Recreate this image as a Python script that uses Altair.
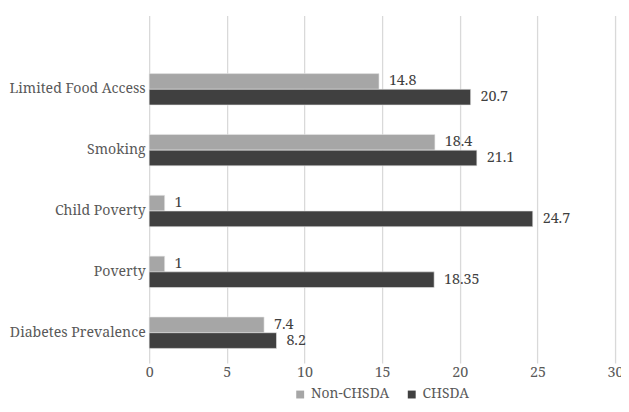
import altair as alt
import pandas as pd

categories = ["Limited Food Access", "Smoking", "Child Poverty", "Poverty", "Diabetes Prevalence"]
series = ["Non-CHSDA", "CHSDA"]
non_chsda = [14.8, 18.4, 1, 1, 7.4]
chsda = [20.7, 21.1, 24.7, 18.35, 8.2]
x_ticks = [0, 5, 10, 15, 20, 25, 30]
colors = ["#a6a6a6", "#404040"]

rows = []
for c, a, b in zip(categories, non_chsda, chsda):
    rows.append({"category": c, "series": series[0], "value": a, "label": f"{a:g}"})
    rows.append({"category": c, "series": series[1], "value": b, "label": f"{b:g}"})
df = pd.DataFrame(rows)

FONT = "Noto Serif"

y_enc = alt.Y("category:N", sort=categories, title=None,
              scale=alt.Scale(paddingInner=0.484, paddingOuter=0.597, align=0.8),
              axis=alt.Axis(domain=False, ticks=False, labelPadding=4,
                            labelFont=FONT, labelFontSize=14.3, labelColor="#595959"))
yoff = alt.YOffset("series:N", sort=series, scale=alt.Scale(paddingInner=0, paddingOuter=0))
x_enc = alt.X("value:Q", title=None,
              scale=alt.Scale(domain=[0, 30], nice=False),
              axis=alt.Axis(values=x_ticks, domain=False, ticks=False, grid=True,
                            labelFlush=False,
                            gridColor="#d9d9d9", gridWidth=1.3, labelPadding=3,
                            labelFont=FONT, labelFontSize=14.5, labelColor="#595959"))

base = alt.Chart(df)

bars = base.mark_bar(stroke="#e8e8e8", strokeWidth=0.6).encode(
    y=y_enc,
    yOffset=yoff,
    x=x_enc,
    color=alt.Color("series:N", sort=series, title=None,
                    scale=alt.Scale(domain=series, range=colors),
                    legend=alt.Legend(orient="none", direction="horizontal",
                                      legendX=146, legendY=377, padding=0,
                                      symbolType="square", symbolSize=64,
                                      symbolStrokeWidth=0, labelOffset=4,
                                      columnPadding=15,
                                      labelFont=FONT, labelFontSize=14,
                                      labelColor="#595959")),
)

labels = base.mark_text(align="left", baseline="middle", dx=10,
                        font=FONT, fontSize=14.5, color="#404040").encode(
    y=alt.Y("category:N", sort=categories),
    yOffset=alt.YOffset("series:N", sort=series),
    x=alt.X("value:Q"),
    text="label:N",
)

chart = alt.layer(bars, labels).properties(
    width=472, height=352,
    autosize=alt.AutoSizeParams(type="none"),
    padding={"left": 143, "top": 5, "right": 6, "bottom": 37},
).configure_view(stroke=None)

chart.save("out.html", embed_options={"renderer": "svg", "actions": False})
